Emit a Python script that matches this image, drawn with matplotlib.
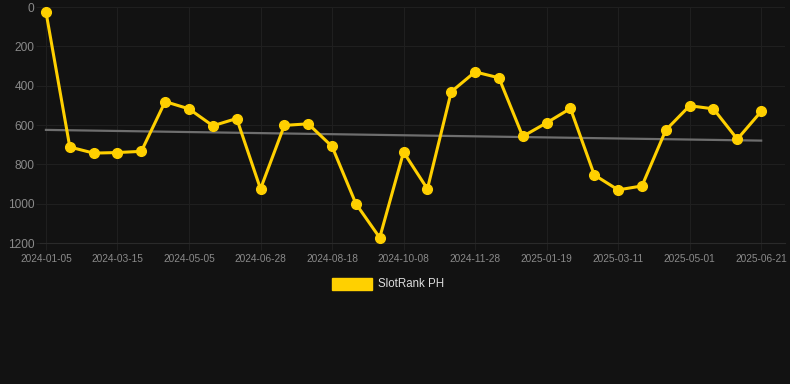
import numpy as np
import matplotlib
matplotlib.use("Agg")
import matplotlib.pyplot as plt

plt.rcParams['font.family'] = ['Liberation Sans', 'DejaVu Sans']

# --- data ---
dates = ["2024-01-05", "2024-01-28", "2024-02-20", "2024-03-15", "2024-04-01",
         "2024-04-18", "2024-05-05", "2024-05-23", "2024-06-10", "2024-06-28",
         "2024-07-15", "2024-08-01", "2024-08-18", "2024-09-04", "2024-09-21",
         "2024-10-08", "2024-10-25", "2024-11-11", "2024-11-28", "2024-12-15",
         "2025-01-01", "2025-01-19", "2025-02-05", "2025-02-22", "2025-03-11",
         "2025-03-28", "2025-04-14", "2025-05-01", "2025-05-18", "2025-06-04",
         "2025-06-21"]
rank = [25, 712, 743, 740, 734, 481, 518, 604, 567, 925,
        602, 594, 709, 1000, 1173, 738, 925, 431, 330, 360,
        658, 589, 516, 854, 930, 910, 626, 502, 518, 672,
        531]
series_name = "SlotRank PH"

bg = "#121212"
yellow = "#ffd000"

x = np.arange(len(rank))
slope, icpt = np.polyfit(x, rank, 1)
trend = slope * x + icpt

fig = plt.figure(figsize=(7.9, 3.84), dpi=100, facecolor=bg)
ax = fig.add_axes([40 / 790, 1 - 243 / 384, 745 / 790, 236 / 384])
ax.set_facecolor(bg)

ax.plot(x, trend, color="#6e6e6e", linewidth=1.6, zorder=2)
ax.plot(x, rank, color=yellow, linewidth=2.2, marker="o", markersize=7,
        zorder=3, clip_on=False)

ax.set_ylim(1200, 0)
ax.set_yticks([0, 200, 400, 600, 800, 1000, 1200])
ax.set_xlim(-0.25, 31.0)
ax.set_xticks(x[::3])
ax.set_xticklabels(dates[::3])

ax.grid(True, color="#1f1f1f", linewidth=0.8)
ax.set_axisbelow(True)
for s in ax.spines.values():
    s.set_visible(False)
ax.spines["bottom"].set_visible(True)
ax.spines["bottom"].set_color("#2a2a2a")
ax.tick_params(axis="y", length=3, color="#1f1f1f", pad=1, labelsize=8.6, colors="#8a8a8a")
ax.tick_params(axis="x", length=5, color="#1f1f1f", pad=3, labelsize=7.3, colors="#8a8a8a")

# legend
fig.patches.append(plt.Rectangle((332 / 790, 1 - 290 / 384), 40 / 790, 12 / 384,
                                 transform=fig.transFigure, color=yellow))
fig.text(378 / 790, 1 - 284 / 384, series_name, color="#dddddd", fontsize=8.3,
         va="center", ha="left")

fig.savefig("out.png", dpi=100, facecolor=bg)
plt.close(fig)
